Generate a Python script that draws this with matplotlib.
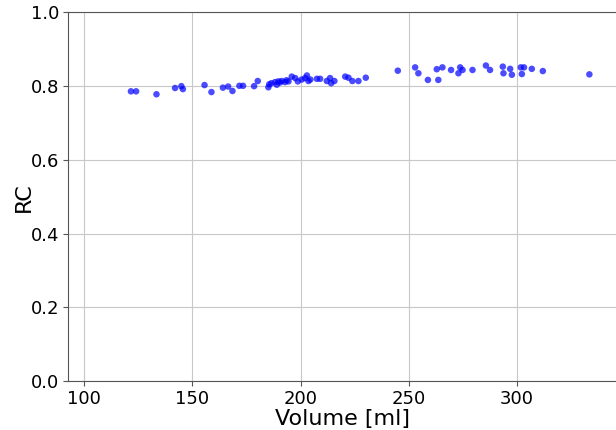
import matplotlib
matplotlib.use('Agg')
import matplotlib.pyplot as plt

# volume [ml] e RC
volume = [121.6, 124.0, 133.4, 142.0, 144.9, 145.6, 155.6, 158.8, 164.1, 166.5,
          168.5, 171.7, 173.4, 178.5, 180.2, 185.1, 185.5, 186.5, 188.2, 189.0,
          189.7, 190.5, 191.3, 192.8, 193.5, 194.4, 195.9, 197.5, 198.7, 200.5,
          202.1, 202.9, 203.6, 204.5, 207.5, 209.0, 212.1, 213.6, 214.1, 215.6,
          220.6, 222.1, 223.9, 226.7, 230.1, 244.9, 252.9, 254.4, 258.8, 262.9,
          263.6, 265.5, 269.5, 272.9, 273.7, 274.8, 279.4, 285.6, 287.5, 293.4,
          293.7, 296.8, 297.6, 301.7, 302.2, 303.2, 306.8, 311.9, 333.4]
rc = [0.786, 0.786, 0.778, 0.795, 0.800, 0.792, 0.803, 0.784, 0.796, 0.799,
      0.787, 0.801, 0.801, 0.800, 0.814, 0.797, 0.805, 0.808, 0.811, 0.804,
      0.813, 0.810, 0.814, 0.811, 0.816, 0.813, 0.826, 0.822, 0.813, 0.818,
      0.822, 0.829, 0.814, 0.818, 0.820, 0.820, 0.814, 0.822, 0.808, 0.814,
      0.826, 0.823, 0.814, 0.814, 0.823, 0.842, 0.851, 0.835, 0.817, 0.846,
      0.817, 0.851, 0.844, 0.835, 0.851, 0.844, 0.844, 0.856, 0.844, 0.853,
      0.835, 0.847, 0.831, 0.851, 0.833, 0.851, 0.847, 0.841, 0.832]

fig = plt.figure(figsize=(6.16, 4.30), dpi=100)
ax = fig.add_axes([0.111, 0.114, 0.889, 0.857])

ax.scatter(volume, rc, s=22, color='blue', alpha=0.7, edgecolors='none', zorder=3)

ax.set_xlim(92.7, 345.7)
ax.set_ylim(0, 1.0)
ax.set_xticks([100, 150, 200, 250, 300])
ax.set_yticks([0.0, 0.2, 0.4, 0.6, 0.8, 1.0])
ax.set_xlabel('Volume [ml]', fontsize=16, labelpad=1)
ax.set_ylabel('RC', fontsize=16, labelpad=-2)
ax.tick_params(labelsize=13, color='#555555', pad=3)
ax.grid(True, color='#c8c8c8', linewidth=0.8)
ax.set_axisbelow(True)

for lado in ['left', 'bottom', 'top']:
    ax.spines[lado].set_color('#555555')
ax.spines['right'].set_visible(False)

plt.savefig('out.png', dpi=100)
plt.close()
